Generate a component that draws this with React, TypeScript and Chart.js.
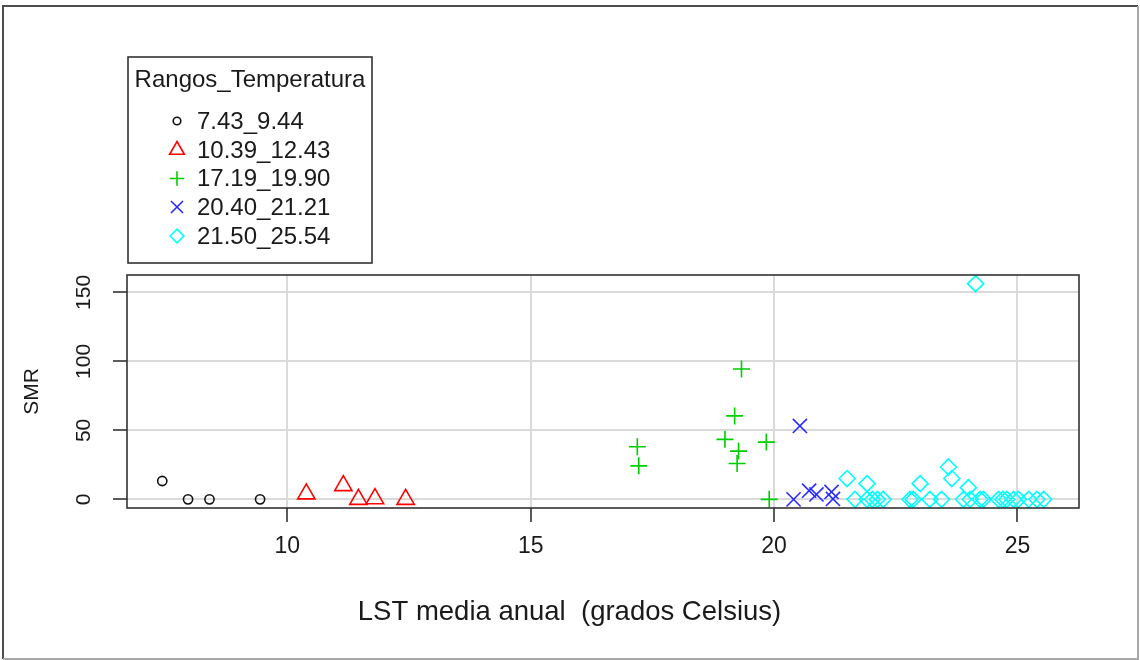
import React, { useEffect, useRef } from "react";
import { Chart, registerables } from "chart.js";
import { drawPoint } from "chart.js/helpers";

Chart.register(...registerables);

const FONT = '"Liberation Sans", Arial, sans-serif';
const INK = "#1a1a1a";

// Legend / group definitions
const legendTitle = "Rangos_Temperatura";
const groupLabels = ["7.43_9.44", "10.39_12.43", "17.19_19.90", "20.40_21.21", "21.50_25.54"];
const groupColors = ["#111111", "#FF0000", "#00CD00", "#2a2aff", "#00FFFF"];
const groupStyles = ["circle", "triangle", "cross", "crossRot", "rectRot"];
const groupRadii = [4.6, 10, 8.5, 10, 8];

// LST (x) and SMR (y) per temperature range
const lst1 = [7.43, 7.96, 8.4, 9.44];
const smr1 = [13.3, 0, 0, 0];

const lst2 = [10.39, 11.15, 11.46, 11.8, 12.43];
const smr2 = [4.0, 10.0, 0, 0.5, 0];

const lst3 = [17.19, 17.22, 18.99, 19.19, 19.24, 19.27, 19.33, 19.84, 19.9];
const smr3 = [38.1, 24.3, 43.5, 60.5, 26.0, 35.0, 94.5, 41.5, 0];

const lst4 = [20.4, 20.53, 20.72, 20.87, 21.18, 21.21];
const smr4 = [0, 53.2, 6.3, 3.6, 5.4, 0.3];

const lst5 = [
  21.5, 21.66, 21.91, 21.91, 22.02, 22.12, 22.24, 22.79, 22.86, 23.0, 23.2, 23.44, 23.58, 23.65,
  23.89, 23.99, 24.03, 24.14, 24.23, 24.3, 24.61, 24.7, 24.78, 24.92, 25.02, 25.23, 25.4, 25.54,
];
const smr5 = [
  15.1, 0, 11.4, 0, 0, 0, 0, 0, 0, 11.4, 0, 0, 23.5, 15.1,
  0, 8.5, 0, 156.4, 0, 0, 0, 0, 0, 0, 0, 0, 0, 0,
];

const groupsX = [lst1, lst2, lst3, lst4, lst5];
const groupsY = [smr1, smr2, smr3, smr4, smr5];

const xStep = 5;
const yStep = 50;
const xTitle = "LST media anual  (grados Celsius)";
const yTitle = "SMR";

// Axis ranges padded by 4% on each side
function paddedRange(values: number[]) {
  const lo = Math.min(...values);
  const hi = Math.max(...values);
  const pad = (hi - lo) * 0.04;
  return [lo - pad, hi + pad];
}

const frameAndLegend = {
  id: "frameAndLegend",
  afterDraw(chart: any) {
    const { ctx, chartArea: a } = chart;
    ctx.save();

    // plot box
    ctx.strokeStyle = "#333333";
    ctx.lineWidth = 1.6;
    ctx.strokeRect(a.left, a.top, a.right - a.left, a.bottom - a.top);

    // x axis title
    ctx.fillStyle = INK;
    ctx.font = `27.5px ${FONT}`;
    ctx.textAlign = "center";
    ctx.textBaseline = "middle";
    ctx.fillText(xTitle, 569.5, 612);

    // legend box
    const lx = 128, ly = 57, lw = 244, lh = 206;
    ctx.strokeStyle = "#333333";
    ctx.lineWidth = 1.6;
    ctx.strokeRect(lx, ly, lw, lh);
    ctx.font = `24px ${FONT}`;
    ctx.fillStyle = INK;
    ctx.textAlign = "center";
    ctx.fillText(legendTitle, lx + lw / 2, 80);
    const rows = [121, 150, 178.5, 207, 236];
    groupLabels.forEach((label, i) => {
      ctx.strokeStyle = groupColors[i];
      ctx.fillStyle = "rgba(0,0,0,0)";
      ctx.lineWidth = 1.6;
      const r = i === 0 ? 3.8 : groupRadii[i] * 0.85;
      drawPoint(ctx, { pointStyle: groupStyles[i], rotation: 0, radius: r, borderWidth: 1.6 }, 177, rows[i]);
      ctx.fillStyle = INK;
      ctx.textAlign = "left";
      ctx.fillText(label, 197, rows[i] + 1);
    });

    // outer frame
    ctx.lineWidth = 2;
    ctx.strokeStyle = "#4d4d4d";
    ctx.beginPath();
    ctx.moveTo(3, 659);
    ctx.lineTo(3, 6);
    ctx.lineTo(1138, 6);
    ctx.stroke();
    ctx.strokeStyle = "#a8a8a8";
    ctx.beginPath();
    ctx.moveTo(1138, 6);
    ctx.lineTo(1138, 659);
    ctx.lineTo(3, 659);
    ctx.stroke();

    ctx.restore();
  },
};

export default function App() {
  const canvasRef = useRef<HTMLCanvasElement | null>(null);

  useEffect(() => {
    const canvas = canvasRef.current;
    if (!canvas) return;
    const [xMin, xMax] = paddedRange(groupsX.flat());
    const [yMin, yMax] = paddedRange(groupsY.flat());

    const datasets = groupsX.map((xs, i) => ({
      label: groupLabels[i],
      data: xs.map((x, k) => ({ x, y: groupsY[i][k] })),
      pointStyle: groupStyles[i],
      pointRadius: groupRadii[i],
      pointBorderColor: groupColors[i],
      pointBackgroundColor: "rgba(0,0,0,0)",
      pointBorderWidth: 1.6,
      showLine: false,
    }));

    const chart = new Chart(canvas, {
      type: "scatter",
      data: { datasets } as any,
      plugins: [frameAndLegend],
      options: {
        responsive: false,
        animation: false,
        events: [],
        layout: { padding: { left: 0, top: 275, right: 61, bottom: 0 } },
        plugins: {
          legend: { display: false },
          tooltip: { enabled: false },
        },
        scales: {
          x: {
            type: "linear",
            position: "bottom",
            min: xMin,
            max: xMax,
            afterFit: (s: any) => {
              s.height = 152;
            },
            ticks: {
              stepSize: xStep,
              includeBounds: false,
              autoSkip: false,
              maxRotation: 0,
              padding: 11,
              color: INK,
              font: { family: FONT, size: 23 },
            },
            grid: { color: "#dadada", lineWidth: 2, tickColor: "#333333", tickLength: 14, tickWidth: 1.6 },
            border: { display: false },
          },
          y: {
            type: "linear",
            position: "left",
            min: yMin,
            max: yMax,
            afterFit: (s: any) => {
              s.width = 127;
            },
            ticks: {
              stepSize: yStep,
              includeBounds: false,
              autoSkip: false,
              minRotation: 90,
              maxRotation: 90,
              crossAlign: "center",
              padding: 11.5,
              color: INK,
              font: { family: FONT, size: 21 },
            },
            title: {
              display: true,
              text: yTitle,
              color: INK,
              font: { family: FONT, size: 21 },
              padding: { top: 19.5, bottom: 0 },
            },
            grid: { color: "#dadada", lineWidth: 2, tickColor: "#333333", tickLength: 14, tickWidth: 1.6 },
            border: { display: false },
          },
        },
      } as any,
    });

    return () => chart.destroy();
  }, []);

  return (
    <div style={{ position: "absolute", left: 0, top: 0, width: 1140, height: 660, background: "#fff" }}>
      <canvas ref={canvasRef} width={1140} height={660} style={{ display: "block" }} />
    </div>
  );
}
